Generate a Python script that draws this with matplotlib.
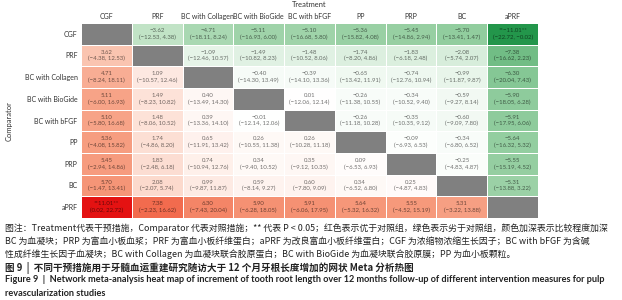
import numpy as np
import matplotlib.pyplot as plt
from matplotlib.colors import LinearSegmentedColormap

arms = ['CGF', 'PRF', 'BC with Collagen', 'BC with BioGide', 'BC with bFGF', 'PP', 'PRP', 'BC', 'aPRF']

# rows = comparator, cols = treatment (nan on the diagonal)
est = [
    [np.nan, -3.62, -4.71, -5.11, -5.10, -5.36, -5.45, -5.70, -11.01],
    [3.62, np.nan, -1.09, -1.49, -1.48, -1.74, -1.83, -2.08, -7.38],
    [4.71, 1.09, np.nan, -0.40, -0.39, -0.65, -0.74, -0.99, -6.30],
    [5.11, 1.49, 0.40, np.nan, 0.01, -0.26, -0.34, -0.59, -5.90],
    [5.10, 1.48, 0.39, -0.01, np.nan, -0.26, -0.35, -0.60, -5.91],
    [5.36, 1.74, 0.65, 0.26, 0.26, np.nan, -0.09, -0.34, -5.64],
    [5.45, 1.83, 0.74, 0.34, 0.35, 0.09, np.nan, -0.25, -5.55],
    [5.70, 2.08, 0.99, 0.59, 0.60, 0.34, 0.25, np.nan, -5.31],
    [11.01, 7.38, 6.30, 5.90, 5.91, 5.64, 5.55, 5.31, np.nan],
]
lo = [
    [np.nan, -12.53, -18.11, -16.93, -16.68, -15.82, -14.86, -13.41, -22.72],
    [-4.38, np.nan, -12.46, -10.82, -10.52, -8.20, -6.18, -5.74, -16.62],
    [-8.24, -10.57, np.nan, -14.30, -14.10, -13.42, -12.76, -11.87, -20.04],
    [-6.00, -8.23, -13.49, np.nan, -12.06, -11.38, -10.52, -9.27, -18.05],
    [-5.80, -8.06, -13.36, -12.14, np.nan, -11.18, -10.35, -9.09, -17.95],
    [-4.08, -4.86, -11.91, -10.55, -10.28, np.nan, -6.93, -6.80, -16.32],
    [-2.94, -2.48, -10.94, -9.40, -9.12, -6.53, np.nan, -4.83, -15.19],
    [-1.47, -2.07, -9.87, -8.14, -7.80, -6.52, -4.87, np.nan, -13.88],
    [0.02, -2.23, -7.43, -6.28, -6.06, -5.32, -4.52, -3.22, np.nan],
]
hi = [
    [np.nan, 4.38, 8.24, 6.00, 5.80, 4.08, 2.94, 1.47, -0.02],
    [12.53, np.nan, 10.57, 8.23, 8.06, 4.86, 2.48, 2.07, 2.23],
    [18.11, 12.46, np.nan, 13.49, 13.36, 11.91, 10.94, 9.87, 7.43],
    [16.93, 10.82, 14.30, np.nan, 12.14, 10.55, 9.40, 8.14, 6.28],
    [16.68, 10.52, 14.10, 12.06, np.nan, 10.28, 9.12, 7.80, 6.06],
    [15.82, 8.20, 13.42, 11.38, 11.18, np.nan, 6.53, 6.52, 5.32],
    [14.86, 6.18, 12.76, 10.52, 10.35, 6.93, np.nan, 4.87, 4.52],
    [13.41, 5.74, 11.87, 9.27, 9.09, 6.80, 4.83, np.nan, 3.22],
    [22.72, 16.62, 20.04, 18.05, 17.95, 16.32, 15.19, 13.88, np.nan],
]
signif = [(0, 8), (8, 0)]

plt.rcParams['font.family'] = ['Lato', 'DejaVu Sans']

cmap = LinearSegmentedColormap.from_list('gr', [
    (0.00, (35/255, 150/255, 75/255)),
    (0.17, (115/255, 190/255, 135/255)),
    (0.25, (150/255, 207/255, 162/255)),
    (0.33, (192/255, 226/255, 197/255)),
    (0.45, (230/255, 244/255, 232/255)),
    (0.50, (1, 1, 1)),
    (0.55, (253/255, 232/255, 224/255)),
    (0.67, (250/255, 195/255, 175/255)),
    (0.75, (246/255, 155/255, 125/255)),
    (0.83, (242/255, 110/255, 80/255)),
    (1.00, (228/255, 18/255, 18/255)),
])
cmap.set_bad('#808080')

fig = plt.figure(figsize=(6.22, 3.0), dpi=100)
ax = fig.add_axes([81/622, 1 - 218/300, 457/622, 195/300])
data = np.ma.masked_invalid(np.array(est))
ax.pcolormesh(data, cmap=cmap, vmin=-11.01, vmax=11.01, edgecolors='white', linewidth=0.4)
ax.set_xlim(0, 9)
ax.set_ylim(9, 0)
ax.xaxis.tick_top()
ax.xaxis.set_label_position('top')
ax.set_xticks(np.arange(9) + 0.5)
ax.set_xticklabels(arms, fontsize=5.0, color='#333333')
ax.set_yticks(np.arange(9) + 0.5)
ax.set_yticklabels(arms, fontsize=5.0, color='#333333')
ax.tick_params(length=0, pad=2.5)
ax.set_xlabel('Treatment', fontsize=5.4, color='#333333', labelpad=4)
for s in ax.spines.values():
    s.set_visible(False)
fig.text(9/622, 1 - 121/300, 'Comparator', rotation=90, fontsize=5.4, color='#333333',
         ha='center', va='center')

for i in range(9):
    for j in range(9):
        if i == j:
            continue
        e = '%.2f' % est[i][j]
        if (i, j) in signif:
            e = '**' + e + '**'
        txt = e.replace('-', '\u2212') + '\n(' + ('%.2f, %.2f' % (lo[i][j], hi[i][j])).replace('-', '\u2212') + ')'
        ax.text(j + 0.5, i + 0.5, txt, ha='center', va='center', fontsize=4.3,
                color='black', alpha=0.55, linespacing=1.35)

cap = dict(family=['Noto Sans CJK SC', 'DejaVu Sans'], color='#222222', ha='left', va='center')
fig.text(5/622, 1 - 228/300,
         '图注：Treatment代表干预措施，Comparator 代表对照措施；** 代表 P < 0.05；红色表示优于对照组，绿色表示劣于对照组，颜色加深表示比较程度加深',
         fontsize=6.4, **cap)
fig.text(5/622, 1 - 241/300,
         'BC 为血凝块；PRP 为富血小板血浆；PRF 为富血小板纤维蛋白；aPRF 为改良富血小板纤维蛋白；CGF 为浓缩物浓缩生长因子；BC with bFGF 为含碱',
         fontsize=6.4, **cap)
fig.text(5/622, 1 - 254/300,
         '性成纤维生长因子血凝块；BC with Collagen 为血凝块联合胶原蛋白；BC with BioGide 为血凝块联合胶原膜；PP 为血小板颗粒。',
         fontsize=6.4, **cap)
fig.text(5/622, 1 - 268/300,
         '图 9  |  不同干预措施用于牙髓血运重建研究随访大于 12 个月牙根长度增加的网状 Meta 分析热图',
         fontsize=6.9, fontweight='bold', **cap)
eng = dict(family=['Liberation Sans Narrow', 'Lato', 'DejaVu Sans'], color='#222222', ha='left',
           va='center', fontweight='bold')
fig.text(5/622, 1 - 280/300,
         'Figure 9  |  Network meta-analysis heat map of increment of tooth root length over 12 months follow-up of different intervention measures for pulp',
         fontsize=6.6, **eng)
fig.text(5/622, 1 - 293/300, 'revascularization studies', fontsize=6.6, **eng)

fig.savefig('out.png', dpi=100)
